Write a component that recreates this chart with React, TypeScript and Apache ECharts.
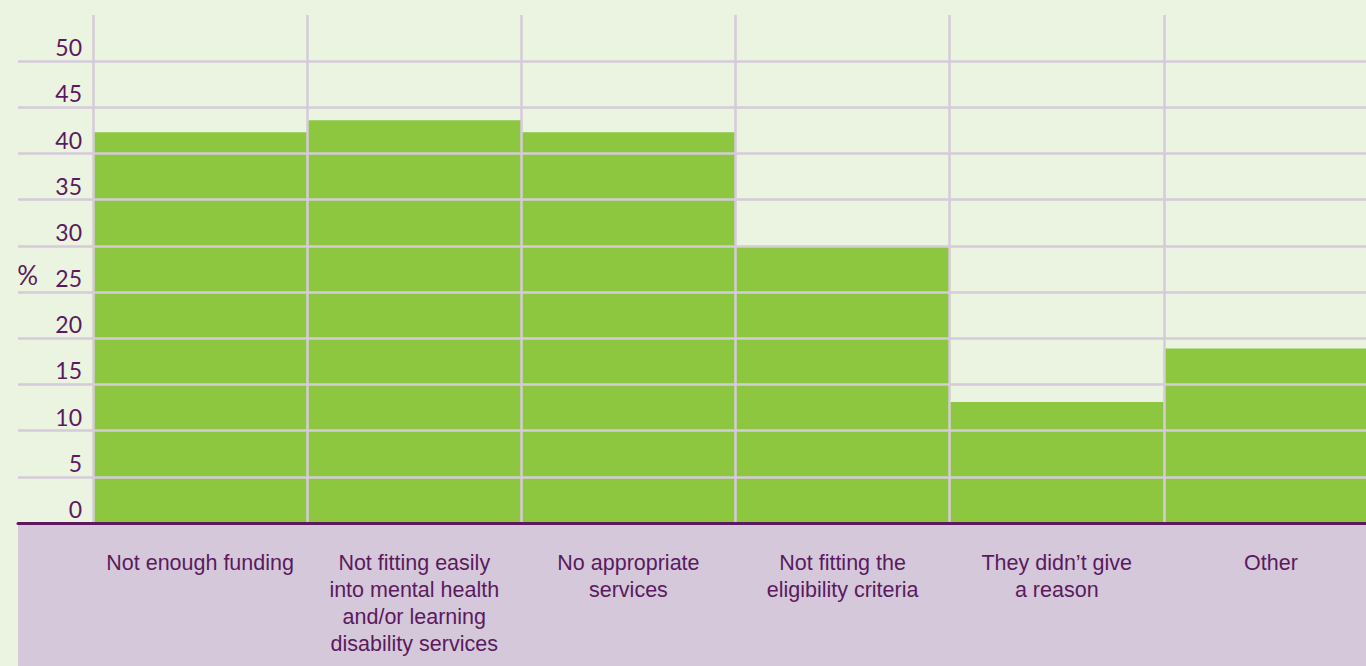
import React, { useEffect, useRef } from 'react';
import * as echarts from 'echarts';

const categories = [
  'Not enough funding',
  'Not fitting easily\ninto mental health\nand/or learning\ndisability services',
  'No appropriate\nservices',
  'Not fitting the\neligibility criteria',
  'They didn\u2019t give\na reason',
  'Other',
];
const values = [42.3, 43.6, 42.3, 30.0, 13.1, 18.9];
const yMax = 50;
const yStep = 5;
const yName = '%';

const PURPLE = '#5b1a5e';
const GRIDC = '#d5cbd9';

export default function App() {
  const ref = useRef<HTMLDivElement>(null);
  useEffect(() => {
    if (!ref.current) return;
    const chart = echarts.init(ref.current, undefined, { renderer: 'svg' });
    chart.setOption({
      animation: false,
      backgroundColor: '#ebf4e0',
      graphic: [
        {
          type: 'rect',
          z: -1,
          silent: true,
          shape: { x: 18, y: 523, width: 1400, height: 200 },
          style: { fill: '#d5c8da' },
        },
      ],
      grid: [
        { left: 93, top: 15, width: 1285, height: 508, outerBoundsMode: 'none', containLabel: false },
        { left: 18, top: 61, width: 1400, height: 462, outerBoundsMode: 'none', containLabel: false },
      ],
      xAxis: [
        {
          type: 'category',
          gridIndex: 0,
          data: categories,
          z: 5,
          axisLine: { show: false },
          axisTick: { show: false },
          splitLine: { show: true, lineStyle: { color: GRIDC, width: 2.5 } },
          axisLabel: {
            interval: 0,
            margin: 26,
            color: PURPLE,
            fontFamily: 'Liberation Sans, Arial, sans-serif',
            fontSize: 21.5,
            lineHeight: 27,
            align: 'center',
            verticalAlign: 'top',
            hideOverlap: false,
          },
        },
        {
          type: 'value',
          gridIndex: 1,
          min: 0,
          max: 1,
          z: 6,
          axisLine: { show: true, lineStyle: { color: PURPLE, width: 3 } },
          axisTick: { show: false },
          axisLabel: { show: false },
          splitLine: { show: false },
        },
      ],
      yAxis: [
        {
          type: 'value',
          gridIndex: 0,
          min: 0,
          max: yMax + yStep,
          interval: yStep,
          name: yName,
          nameLocation: 'middle',
          nameRotate: 0,
          nameGap: 55,
          nameTextStyle: {
            color: PURPLE,
            fontFamily: 'Lato, sans-serif',
            fontSize: 26,
            verticalAlign: 'top',
            lineHeight: 12,
          },
          axisLine: { show: false },
          axisTick: { show: false },
          splitLine: { show: false },
          axisLabel: {
            margin: 11,
            color: PURPLE,
            fontFamily: 'Lato, sans-serif',
            fontSize: 23,
            lineHeight: 22,
            padding: [0, 0, 3, 0],
            verticalAlign: 'bottom',
            formatter: (v: number) => (v <= yMax ? String(v) : ''),
          },
        },
        {
          type: 'value',
          gridIndex: 1,
          min: 0,
          max: yMax,
          interval: yStep,
          z: 5,
          axisLine: { show: false },
          axisTick: { show: false },
          axisLabel: { show: false },
          splitLine: { show: true, lineStyle: { color: GRIDC, width: 2.5 } },
        },
      ],
      series: [
        {
          type: 'bar',
          xAxisIndex: 0,
          yAxisIndex: 0,
          data: values,
          barCategoryGap: '0%',
          itemStyle: { color: '#8dc63f' },
          z: 2,
        },
        {
          type: 'line',
          xAxisIndex: 1,
          yAxisIndex: 1,
          data: [],
        },
      ],
    });
    return () => chart.dispose();
  }, []);
  return (
    <div
      ref={ref}
      style={{ position: 'fixed', left: 0, top: 0, width: 1366, height: 666 }}
    />
  );
}
